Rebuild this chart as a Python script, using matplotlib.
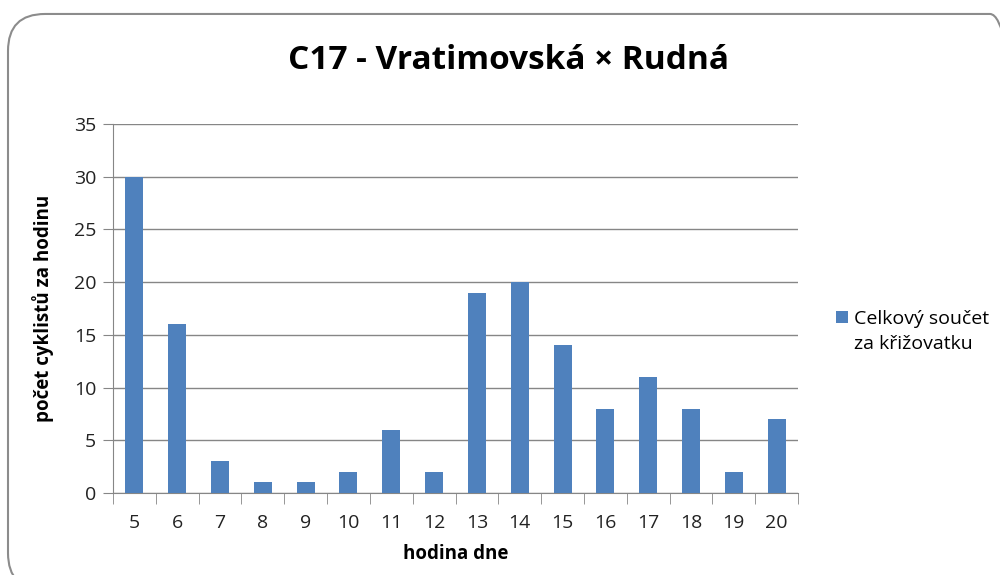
import matplotlib.pyplot as plt
import numpy as np
from matplotlib.patches import FancyBboxPatch

plt.rcParams['font.family'] = ['Open Sans', 'DejaVu Sans']

hours = ['5', '6', '7', '8', '9', '10', '11', '12', '13', '14', '15', '16', '17', '18', '19', '20']
counts = [30, 16, 3, 1, 1, 2, 6, 2, 19, 20, 14, 8, 11, 8, 2, 7]
series_name = ['Celkový součet', 'za křižovatku']

fig = plt.figure(figsize=(10, 5.75), dpi=100)

# rounded chart frame (runs off the right and bottom edges like the source)
frame = FancyBboxPatch((0.008, -0.026), 1.019, 1.0017,
                       boxstyle='round,pad=0,rounding_size=0.037',
                       transform=fig.transFigure, fc='none', ec='#8c8c8c',
                       lw=1.5, clip_on=False, mutation_aspect=1000 / 575)
fig.patches.append(frame)

ax = fig.add_axes([0.113, 0.1426, 0.685, 0.6417])
x = np.arange(len(hours))
ax.bar(x, counts, width=0.42, color='#4f81bd', zorder=3, label=series_name[0])

ax.set_xlim(-0.5, len(hours) - 0.5)
ax.set_ylim(0, 35)
ax.set_yticks(np.arange(0, 36, 5))
ax.yaxis.grid(True, color='#868686', lw=1)
ax.set_axisbelow(True)
for s in ['top', 'right']:
    ax.spines[s].set_visible(False)
ax.spines['left'].set_color('#868686')
ax.spines['bottom'].set_color('#868686')

ax.set_xticks(x)
ax.set_xticklabels(hours)
ax.set_xticks(np.arange(-0.5, len(hours), 1), minor=True)
ax.tick_params(axis='x', which='major', length=0, pad=15, labelsize=14, labelcolor='#222222')
ax.tick_params(axis='x', which='minor', length=8, color='#868686')
ax.tick_params(axis='y', length=7, color='#868686', labelsize=14, labelcolor='#222222', pad=5)

ax.set_xlabel('hodina dne', fontsize=13.5, fontweight='bold', labelpad=9)
ax.set_ylabel('počet cyklistů za hodinu', fontsize=13.5, fontweight='bold', labelpad=14)

fig.text(0.508, 0.895, 'C17 - Vratimovská × Rudná', ha='center', va='center',
         fontsize=24, fontweight='bold')

# legend: square sits next to the first line, second line wraps below the text
leg = fig.legend(loc='center left', bbox_to_anchor=(0.836, 0.446), frameon=False,
                 fontsize=14, handlelength=0.6, handleheight=0.6, handletextpad=0.3,
                 borderaxespad=0, borderpad=0)
fig.canvas.draw()
bb = leg.get_texts()[0].get_window_extent().transformed(fig.transFigure.inverted())
fig.text(bb.x0, bb.y0 - 0.045, series_name[1], fontsize=14, ha='left', va='bottom')

fig.savefig('out.png', dpi=100)
